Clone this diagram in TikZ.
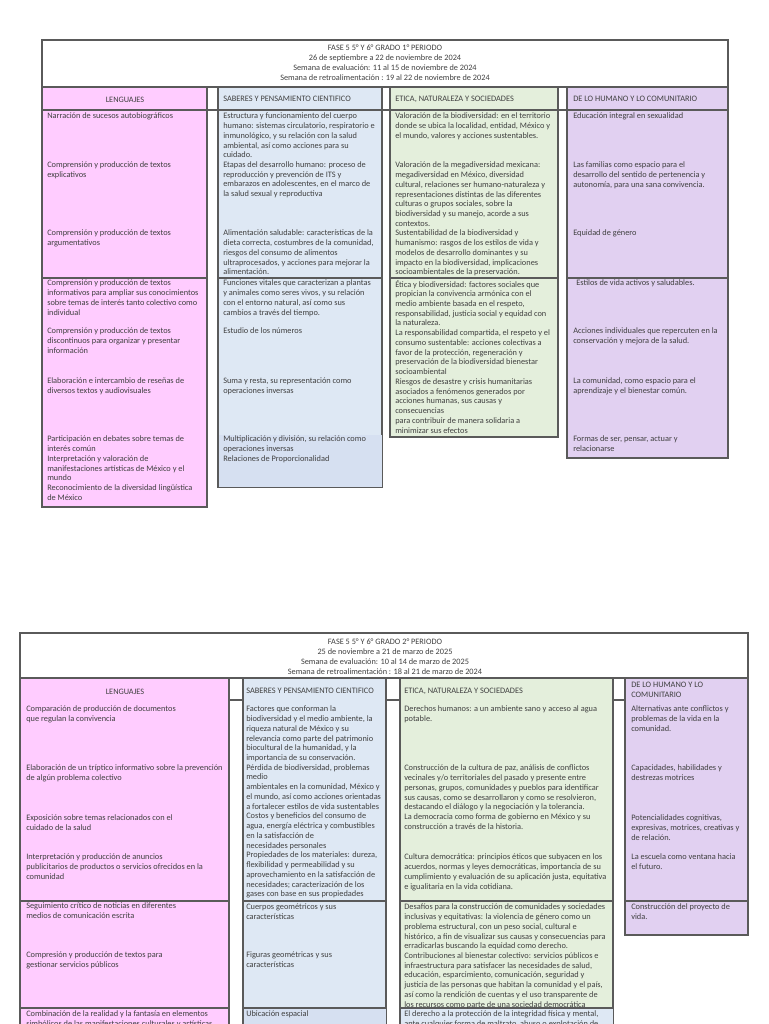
\documentclass[tikz,border=0pt]{standalone}
\usepackage{fontspec}
\setmainfont{Carlito}
\definecolor{rosa}{HTML}{FFCCFF}
\definecolor{azul}{HTML}{DEE8F4}
\definecolor{azulb}{HTML}{D6E0F1}
\definecolor{verde}{HTML}{E4EFDC}
\definecolor{lila}{HTML}{E1D0F1}
\definecolor{marco}{HTML}{5A5A5A}
\definecolor{letra}{HTML}{404040}
\begin{document}
\begin{tikzpicture}[x=0.75pt, y=-0.75pt,
  cell/.style={draw=marco, line width=1pt},
  txt/.style={anchor=north west, inner sep=0pt, yshift=-0.6pt, align=left, text=letra, font=\fontsize{6.25}{7.3}\selectfont},
  head/.style={anchor=north, inner sep=0pt, yshift=-1.2pt, align=center, text=letra, font=\fontsize{6.2}{7.4}\selectfont}]
\useasboundingbox (0,0) rectangle (768,1024);
\fill[white] (0,0) rectangle (768,1024);
% primer periodo
\draw[cell, fill=white] (42,40) rectangle (728,87);
\draw[cell, fill=rosa] (42,87) rectangle (207,507);
\draw[cell, fill=azul] (218,87) rectangle (382,487);
\fill[azulb] (218.5,435) rectangle (381.5,486.5);
\draw[cell, fill=verde] (390,87) rectangle (558,437);
\draw[cell, fill=lila] (567,87) rectangle (728,458);
\draw[cell] (207,87) rectangle (218,110);
\draw[cell] (382,87) rectangle (390,110);
\draw[cell] (558,87) rectangle (567,110);
\draw[cell] (42,110) -- (728,110);
\draw[cell] (42,278) -- (207,278) (218,278) -- (382,278) (390,278) -- (558,278) (567,278) -- (728,278);
\node[head] (H_1) at (385,43) {FASE 5 5° Y 6° GRADO 1° PERIODO\\26 de septiembre a 22 de noviembre de 2024\\Semana de evaluación: 11 al 15 de noviembre de 2024\\Semana de retroalimentación : 19 al 22 de noviembre de 2024};
\node[head] (A_1_0) at (125,95) {LENGUAJES};
\node[txt] (A_2_0) at (223,95) {SABERES Y PENSAMIENTO CIENTIFICO};
\node[txt] (A_3_0) at (395,95) {ETICA, NATURALEZA Y SOCIEDADES};
\node[txt] (A_4_0) at (573,95) {DE LO HUMANO Y LO COMUNITARIO};
\node[txt] (A_1_1) at (47,112) {Narración de sucesos autobiográficos};
\node[txt] (A_1_2) at (47,161) {Comprensión y producción de textos\\explicativos};
\node[txt] (A_1_3) at (47,229) {Comprensión y producción de textos\\argumentativos};
\node[txt] (A_1_4) at (47,279) {Comprensión y producción de textos\\informativos para ampliar sus conocimientos\\sobre temas de interés tanto colectivo como\\individual};
\node[txt] (A_1_5) at (47,327) {Comprensión y producción de textos\\discontinuos para organizar y presentar\\información};
\node[txt] (A_1_6) at (47,377) {Elaboración e intercambio de reseñas de\\diversos textos y audiovisuales};
\node[txt] (A_1_7) at (47,435) {Participación en debates sobre temas de\\interés común\\Interpretación y valoración de\\manifestaciones artísticas de México y el\\mundo\\Reconocimiento de la diversidad lingüística\\de México};
\node[txt] (A_2_1) at (223,112) {Estructura y funcionamiento del cuerpo\\humano: sistemas circulatorio, respiratorio e\\inmunológico, y su relación con la salud\\ambiental, así como acciones para su\\cuidado.\\Etapas del desarrollo humano: proceso de\\reproducción y prevención de ITS y\\embarazos en adolescentes, en el marco de\\la salud sexual y reproductiva};
\node[txt] (A_2_2) at (223,229) {Alimentación saludable: características de la\\dieta correcta, costumbres de la comunidad,\\riesgos del consumo de alimentos\\ultraprocesados, y acciones para mejorar la\\alimentación.};
\node[txt] (A_2_3) at (223,279) {Funciones vitales que caracterizan a plantas\\y animales como seres vivos, y su relación\\con el entorno natural, así como sus\\cambios a través del tiempo.};
\node[txt] (A_2_4) at (223,327) {Estudio de los números};
\node[txt] (A_2_5) at (223,377) {Suma y resta, su representación como\\operaciones inversas};
\node[txt] (A_2_6) at (223,435) {Multiplicación y división, su relación como\\operaciones inversas\\Relaciones de Proporcionalidad};
\node[txt] (A_3_1) at (395,112) {Valoración de la biodiversidad: en el territorio\\donde se ubica la localidad, entidad, México y\\el mundo, valores y acciones sustentables.};
\node[txt] (A_3_2) at (395,161) {Valoración de la megadiversidad mexicana:\\megadiversidad en México, diversidad\\cultural, relaciones ser humano-naturaleza y\\representaciones distintas de las diferentes\\culturas o grupos sociales, sobre la\\biodiversidad y su manejo, acorde a sus\\contextos.\\Sustentabilidad de la biodiversidad y\\humanismo: rasgos de los estilos de vida y\\modelos de desarrollo dominantes y su\\impacto en la  biodiversidad, implicaciones\\socioambientales de la  preservación.};
\node[txt] (A_3_3) at (395,279) {Ética y biodiversidad: factores sociales que\\propician la convivencia armónica con el\\medio ambiente basada en el respeto,\\responsabilidad, justicia social y equidad con\\la naturaleza.\\La responsabilidad compartida, el respeto y el\\consumo sustentable: acciones colectivas a\\favor de la protección, regeneración y\\preservación de la biodiversidad bienestar\\socioambiental\\Riesgos de desastre y crisis humanitarias\\asociados a fenómenos generados por\\acciones humanas, sus causas y\\consecuencias\\para contribuir de manera solidaria a\\minimizar sus efectos};
\node[txt] (A_4_1) at (573,112) {Educación integral en sexualidad};
\node[txt] (A_4_2) at (573,161) {Las familias como espacio para el\\desarrollo del sentido de pertenencia y\\autonomía, para una sana convivencia.};
\node[txt] (A_4_3) at (573,229) {Equidad de género};
\node[txt] (A_4_4) at (576,279) {Estilos de vida activos y saludables.};
\node[txt] (A_4_5) at (573,327) {Acciones individuales que repercuten en la\\conservación y mejora de la salud.};
\node[txt] (A_4_6) at (573,377) {La comunidad, como espacio para el\\aprendizaje y el bienestar común.};
\node[txt] (A_4_7) at (573,435) {Formas de ser, pensar, actuar y\\relacionarse};
% segundo periodo
\draw[cell, fill=white] (20,633) rectangle (748,678);
\draw[cell, fill=rosa] (20,678) rectangle (229,1040);
\draw[cell, fill=azul] (243,678) rectangle (386,1040);
\draw[cell, fill=verde] (400,678) rectangle (613,1040);
\draw[cell, fill=lila] (625,678) rectangle (748,935);
\fill[azulb] (243.5,1008) rectangle (385.5,1040);
\fill[azul] (400.5,1008) rectangle (612.5,1040);
\draw[cell] (229,678) rectangle (243,700);
\draw[cell] (386,678) rectangle (400,700);
\draw[cell] (613,678) rectangle (625,700);
\draw[cell] (20,901) -- (229,901) (243,901) -- (386,901) (400,901) -- (613,901) (625,901) -- (748,901);
\draw[cell] (20,1008) -- (229,1008) (243,1008) -- (386,1008) (400,1008) -- (613,1008);
\node[head] (H_2) at (385,637) {FASE 5 5° Y 6° GRADO 2° PERIODO\\25 de noviembre a 21 de marzo de 2025\\Semana de evaluación: 10 al 14 de marzo de 2025\\Semana de retroalimentación : 18 al 21 de marzo de 2024};
\node[head] (B_1_0) at (125,687) {LENGUAJES};
\node[txt] (B_2_0) at (246,687) {SABERES Y PENSAMIENTO CIENTIFICO};
\node[txt] (B_3_0) at (404,687) {ETICA, NATURALEZA Y SOCIEDADES};
\node[txt] (B_4_0) at (631,681) {DE LO HUMANO Y LO\\COMUNITARIO};
\node[txt] (B_1_1) at (26,705) {Comparación de producción de documentos\\que regulan la convivencia};
\node[txt] (B_1_2) at (26,764) {Elaboración de un tríptico informativo sobre la prevención\\de algún problema colectivo};
\node[txt] (B_1_3) at (26,814) {Exposición sobre temas relacionados con el\\cuidado de la salud};
\node[txt] (B_1_4) at (26,853) {Interpretación y producción de anuncios\\publicitarios de productos o servicios ofrecidos en la\\comunidad};
\node[txt] (B_1_5) at (26,902) {Seguimiento crítico de noticias en diferentes\\medios de comunicación escrita};
\node[txt] (B_1_6) at (26,951) {Compresión y producción de textos para\\gestionar servicios públicos};
\node[txt] (B_1_7) at (26,1010) {Combinación de la realidad y la fantasía en elementos\\simbólicos de las manifestaciones culturales y artísticas};
\node[txt] (B_2_1) at (246,705) {Factores que conforman la\\biodiversidad y el medio ambiente, la\\riqueza natural de México y su\\relevancia como parte del patrimonio\\biocultural de la humanidad, y la\\importancia de su conservación.\\Pérdida de biodiversidad, problemas\\medio\\ambientales en la comunidad, México y\\el mundo, así como acciones orientadas\\a fortalecer estilos de vida sustentables\\Costos y beneficios del consumo de\\agua, energía eléctrica y combustibles\\en la satisfacción de\\necesidades personales\\Propiedades de los materiales: dureza,\\flexibilidad y permeabilidad y su\\aprovechamiento en la satisfacción de\\necesidades; caracterización de los\\gases con base en sus propiedades};
\node[txt] (B_2_2) at (246,903) {Cuerpos geométricos y sus\\características};
\node[txt] (B_2_3) at (246,951) {Figuras geométricas y sus\\características};
\node[txt] (B_2_4) at (246,1010) {Ubicación espacial};
\node[txt] (B_3_1) at (404,705) {Derechos humanos: a un ambiente sano y acceso al agua\\potable.};
\node[txt] (B_3_2) at (404,764) {Construcción de la cultura de paz, análisis de conflictos\\vecinales y/o territoriales del pasado y presente entre\\personas, grupos, comunidades y pueblos para identificar\\sus causas, como se desarrollaron y como se resolvieron,\\destacando el diálogo y la negociación y la tolerancia.\\La democracia como forma de gobierno en México y su\\construcción a través de la historia.};
\node[txt] (B_3_3) at (404,853) {Cultura democrática: principios éticos que subyacen en los\\acuerdos, normas y leyes democráticas, importancia de su\\cumplimiento y evaluación de su aplicación justa, equitativa\\e igualitaria en la vida cotidiana.};
\node[txt] (B_3_4) at (404,903) {Desafíos para la construcción de comunidades y sociedades\\inclusivas y equitativas: la violencia de género como un\\problema estructural, con un peso social, cultural e\\histórico, a fin de visualizar sus causas y consecuencias para\\erradicarlas buscando la equidad como derecho.\\Contribuciones al bienestar colectivo: servicios públicos e\\infraestructura para satisfacer las necesidades de salud,\\educación, esparcimiento, comunicación, seguridad y\\justicia de las personas que habitan la comunidad y el país,\\así como la rendición de cuentas y el uso transparente de\\los recursos como parte de una sociedad democrática};
\node[txt] (B_3_5) at (404,1010) {El derecho a la protección de la integridad física y mental,\\ante cualquier forma de maltrato, abuso o explotación de};
\node[txt] (B_4_1) at (631,705) {Alternativas ante conflictos y\\problemas de la vida en la\\comunidad.};
\node[txt] (B_4_2) at (631,764) {Capacidades, habilidades y\\destrezas motrices};
\node[txt] (B_4_3) at (631,814) {Potencialidades cognitivas,\\expresivas, motrices, creativas y\\de relación.};
\node[txt] (B_4_4) at (631,853) {La escuela como ventana hacia\\el futuro.};
\node[txt] (B_4_5) at (631,903) {Construcción del proyecto de\\vida.};
\end{tikzpicture}
\end{document}
